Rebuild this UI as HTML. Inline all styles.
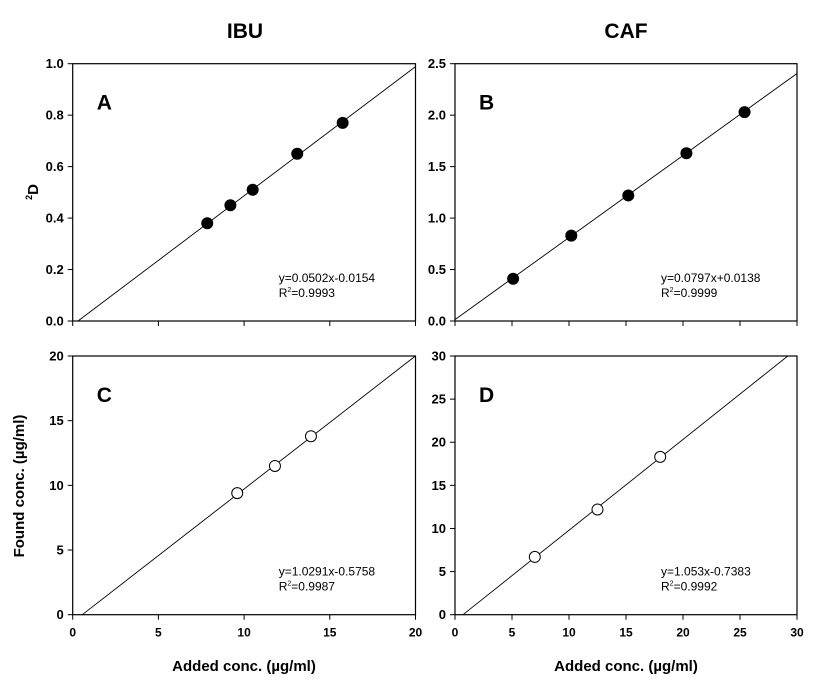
<!DOCTYPE html>
<html><head><meta charset="utf-8"><style>
body{margin:0;background:#fff;}
svg text{font-family:"Liberation Sans",Arial,sans-serif;fill:#000;}
</style></head><body>
<svg id="fig" width="831" height="681" xmlns="http://www.w3.org/2000/svg">
<text x="245" y="38" font-size="21" font-weight="bold" text-anchor="middle">IBU</text>
<text x="626" y="38" font-size="21" font-weight="bold" text-anchor="middle">CAF</text>
<text transform="translate(38,192) rotate(-90)" font-size="15" font-weight="bold" text-anchor="middle"><tspan font-size="9" dy="-6">2</tspan><tspan dy="6">D</tspan></text>
<text transform="translate(24,486) rotate(-90)" font-size="15" font-weight="bold" text-anchor="middle">Found conc. (µg/ml)</text>
<text x="244" y="671" font-size="15" font-weight="bold" text-anchor="middle">Added conc. (µg/ml)</text>
<text x="626" y="671" font-size="15" font-weight="bold" text-anchor="middle">Added conc. (µg/ml)</text>
</svg>
<script>
const ns="http://www.w3.org/2000/svg";
const svg=document.getElementById('fig');
// Panel A data
const aX=[7.85,9.2,10.5,13.1,15.75];
const aY=[0.38,0.45,0.51,0.65,0.77];
const aYTicks=[0,0.2,0.4,0.6,0.8,1.0];
// Panel B data
const bX=[5.1,10.2,15.2,20.3,25.4];
const bY=[0.41,0.83,1.22,1.63,2.03];
const bYTicks=[0,0.5,1.0,1.5,2.0,2.5];
// Panel C data
const cX=[9.6,11.8,13.9];
const cY=[9.4,11.5,13.8];
const cYTicks=[0,5,10,15,20];
// Panel D data
const dX=[7.0,12.5,18.0];
const dY=[6.7,12.2,18.3];
const dYTicks=[0,5,10,15,20,25,30];
const xTicks20=[0,5,10,15,20];
const xTicks30=[0,5,10,15,20,25,30];
const slopes=[0.0502,0.0797,1.0291,1.053];
const intercepts=[-0.0154,0.0138,-0.5758,-0.7383];
const eqLabels=["y=0.0502x-0.0154","y=0.0797x+0.0138","y=1.0291x-0.5758","y=1.053x-0.7383"];
const r2Labels=["0.9993","0.9999","0.9987","0.9992"];

function mk(tag,attrs,parent){const e=document.createElementNS(ns,tag);for(const k in attrs)e.setAttribute(k,attrs[k]);(parent||svg).appendChild(e);return e;}

const panels=[
 {id:'a',L:72.7,R:415.5,T:63.7,B:321,xmax:20,ymax:1.0,xs:aX,ys:aY,yt:aYTicks,xt:xTicks20,fill:'#000',letter:'A',showX:false,dec:1},
 {id:'b',L:455,R:797,T:63.7,B:321,xmax:30,ymax:2.5,xs:bX,ys:bY,yt:bYTicks,xt:xTicks30,fill:'#000',letter:'B',showX:false,dec:1},
 {id:'c',L:72.7,R:415.5,T:356,B:614.7,xmax:20,ymax:20,xs:cX,ys:cY,yt:cYTicks,xt:xTicks20,fill:'#fff',letter:'C',showX:true,dec:0},
 {id:'d',L:455,R:797,T:356,B:614.7,xmax:30,ymax:30,xs:dX,ys:dY,yt:dYTicks,xt:xTicks30,fill:'#fff',letter:'D',showX:true,dec:0}
];
panels.forEach((p,i)=>{
 const g=mk('g',{});
 
 
 const sx=v=>p.L+v/p.xmax*(p.R-p.L);
 const sy=v=>p.B-v/p.ymax*(p.B-p.T);
 const f=mk('rect',{x:p.L,y:p.T,width:p.R-p.L,height:p.B-p.T,fill:'none',stroke:'#000','stroke-width':1.2},g);
 
 
 p.yt.forEach(t=>{
  mk('line',{x1:p.L-5,x2:p.L,y1:sy(t),y2:sy(t),stroke:'#000'},g);
  const tx=mk('text',{x:p.L-9,y:sy(t)+4.5,'font-size':13,'font-weight':'bold','text-anchor':'end'},g);
  tx.textContent=t.toFixed(p.dec);
  
  
 });
 p.xt.forEach(t=>{
  mk('line',{x1:sx(t),x2:sx(t),y1:p.B,y2:p.B+5,stroke:'#000'},g);
  if(p.showX){
   const tx=mk('text',{x:sx(t),y:p.B+22,'font-size':12,'font-weight':'bold','text-anchor':'middle'},g);
   tx.textContent=t;
   
   
  }
 });
 const m=slopes[i],b=intercepts[i];
 const x0=Math.max(0,-b/m);
 let x1=p.xmax,y1=m*x1+b; if(y1>p.ymax){x1=(p.ymax-b)/m;y1=p.ymax;}
 const ln=mk('line',{x1:sx(x0),y1:sy(Math.max(0,m*x0+b)),x2:sx(x1),y2:sy(y1),stroke:'#000','stroke-width':0.9},g);
 
 
 p.xs.forEach((x,j)=>{
  const c=mk('circle',{cx:sx(x),cy:sy(p.ys[j]),r:5.5,fill:p.fill,stroke:'#000','stroke-width':1},g);
  
  
 });
 const L=mk('text',{x:p.L+24,y:p.T+46,'font-size':21,'font-weight':'bold'},g);
 L.textContent=p.letter;
 
 
 const e=mk('text',{x:p.L+206,y:p.B-39,'font-size':12},g);
 e.textContent=eqLabels[i];
 
 
 const r=mk('text',{x:p.L+206,y:p.B-24,'font-size':12},g);
 r.innerHTML='R<tspan font-size="7" dy="-5">2</tspan><tspan dy="5">='+r2Labels[i]+'</tspan>';
 
 
});
</script>
</body></html>
